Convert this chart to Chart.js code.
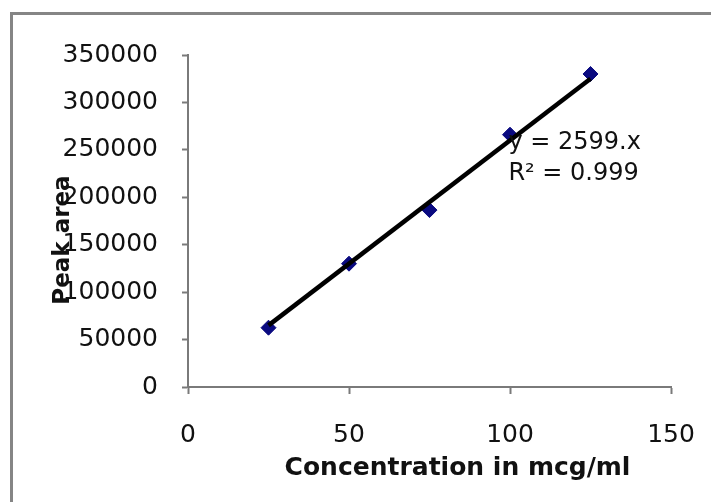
<!DOCTYPE html>
<html>
<head>
<meta charset="utf-8">
<script src="https://cdn.jsdelivr.net/npm/chart.js@4.4.0/dist/chart.umd.min.js"></script>
<style>
  html, body { margin: 0; padding: 0; background: #fff; overflow: hidden; }
  #page { position: absolute; left: 0; top: 0; width: 711px; height: 502px; overflow: hidden; }
  #frame { position: absolute; left: 10px; top: 12px; width: 900px; height: 700px; border: 3px solid #858585; }
  #wrap { position: absolute; left: 0; top: 0; width: 711px; height: 502px; }
</style>
</head>
<body>
<div id="page">
  <div id="frame"></div>
  <div id="wrap"><canvas id="chart" width="711" height="502"></canvas></div>
</div>
<script>
// calibration points
const concentration = [25, 50, 75, 100, 125];
const peakArea = [62500, 130000, 186500, 266000, 330000];

// trendline end points (y = 2599.x)
const trendX = [25, 125];
const trendY = [64975, 324875];

const xTicks = [0, 50, 100, 150];
const yTicks = [0, 50000, 100000, 150000, 200000, 250000, 300000, 350000];

const xTitle = 'Concentration in mcg/ml';
const yTitle = 'Peak area';
const eqLines = ['y = 2599.x', 'R\u00b2 = 0.999'];

const FONT = '"DejaVu Sans", Verdana, sans-serif';

// axis titles and equation label drawn on top, like the excel original
const labelPlugin = {
    id: 'labels',
    afterDraw(chart) {
        const ctx = chart.ctx;
        const area = chart.chartArea;
        const xs = chart.scales.x;
        const ys = chart.scales.y;
        ctx.save();
        ctx.fillStyle = '#111';

        ctx.font = 'bold 25px ' + FONT;
        ctx.textAlign = 'center';
        ctx.textBaseline = 'middle';
        ctx.fillText(xTitle, (area.left + area.right) / 2 + 28, area.bottom + 81);

        ctx.save();
        ctx.translate(area.left - 125, (area.top + area.bottom) / 2 + 19);
        ctx.rotate(-Math.PI / 2);
        ctx.font = 'bold 23px ' + FONT;
        ctx.fillText(yTitle, 0, 0);
        ctx.restore();

        ctx.font = '24px ' + FONT;
        ctx.textAlign = 'left';
        const ex = xs.getPixelForValue(99.5);
        ctx.fillText(eqLines[0], ex, ys.getPixelForValue(258000));
        ctx.fillText(eqLines[1], ex, ys.getPixelForValue(225000));
        ctx.restore();
    }
};

const ctx = document.getElementById('chart').getContext('2d');
new Chart(ctx, {
    type: 'scatter',
    data: {
        datasets: [{
            label: 'Trend',
            data: trendX.map((x, i) => ({ x: x, y: trendY[i] })),
            showLine: true,
            borderColor: '#000',
            borderWidth: 4.5,
            pointRadius: 0,
            order: 0
        }, {
            label: 'Peak area',
            data: concentration.map((x, i) => ({ x: x, y: peakArea[i] })),
            pointStyle: 'rectRot',
            pointRadius: 7.5,
            backgroundColor: '#0a0a80',
            borderColor: '#0a0a80',
            order: 1
        }]
    },
    options: {
        responsive: false,
        animation: false,
        layout: { padding: { left: 0, right: 40, top: 55, bottom: 0 } },
        plugins: {
            legend: { display: false },
            tooltip: { enabled: false }
        },
        scales: {
            x: {
                type: 'linear',
                min: 0,
                max: 150,
                afterBuildTicks: s => { s.ticks = xTicks.map(v => ({ value: v })); },
                afterFit: s => { s.height = 115; s.paddingLeft = 0; s.paddingRight = 0; },
                ticks: { color: '#111', font: { family: FONT, size: 25 }, padding: 26, maxRotation: 0 },
                grid: { drawOnChartArea: false, drawTicks: true, tickLength: 7, color: '#7a7a7a', tickWidth: 2 },
                border: { display: true, color: '#7a7a7a', width: 2 }
            },
            y: {
                min: 0,
                max: 350000,
                afterBuildTicks: s => { s.ticks = yTicks.map(v => ({ value: v })); },
                afterFit: s => { s.width = 188; s.paddingTop = 0; s.paddingBottom = 0; },
                ticks: { color: '#111', font: { family: FONT, size: 25 }, padding: 24, callback: v => String(v) },
                grid: { drawOnChartArea: false, drawTicks: true, tickLength: 6, color: '#7a7a7a', tickWidth: 2 },
                border: { display: true, color: '#7a7a7a', width: 2 }
            }
        }
    },
    plugins: [labelPlugin]
});
</script>
</body>
</html>
